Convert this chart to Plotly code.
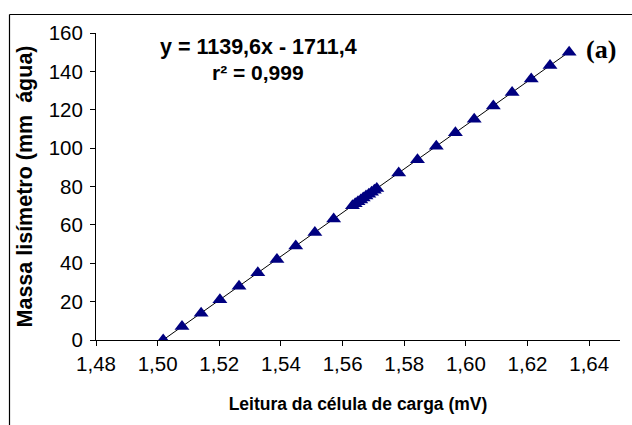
import plotly.graph_objects as go
import numpy as np

# Data
leitura_mv = [1.5018, 1.5079, 1.5141, 1.5202, 1.5264, 1.5325, 1.5387, 1.5448, 1.5510, 1.5571,
              1.5632, 1.5641, 1.5650, 1.5659, 1.5667, 1.5676, 1.5685, 1.5694, 1.5703, 1.5711,
              1.5782, 1.5843, 1.5904, 1.5966, 1.6027, 1.6089, 1.6150, 1.6212, 1.6273, 1.6335]
massa_mm = [0, 7, 14, 21, 28, 35, 42, 49, 56, 63,
            70, 71, 72, 73, 74, 75, 76, 77, 78, 79,
            87, 94, 101, 108, 115, 122, 129, 136, 143, 150]

slope = 1139.6
intercept = -1711.4
eq_text = "y = 1139,6x - 1711,4"
r2_text = "r² = 0,999"
panel_label = "(a)"
x_title = "Leitura da célula de carga (mV)"
y_title = "Massa lisímetro (mm  água)"

x_ticks = [1.48, 1.50, 1.52, 1.54, 1.56, 1.58, 1.60, 1.62, 1.64]
y_ticks = [0, 20, 40, 60, 80, 100, 120, 140, 160]

W, H = 632, 425
L, R, T, B = 96, 12, 33, 85
pw, ph = W - L - R, H - T - B

fx = np.array([min(leitura_mv), max(leitura_mv)])
fy = slope * fx + intercept

SANS = "Arial, Liberation Sans, sans-serif"
SERIF = "Liberation Serif, Times New Roman, DejaVu Serif, serif"

fig = go.Figure()
fig.add_trace(go.Scatter(x=fx, y=fy, mode="lines",
                         line=dict(color="black", width=1), showlegend=False, hoverinfo="skip"))
fig.add_trace(go.Scatter(x=leitura_mv, y=massa_mm, mode="markers",
                         marker=dict(symbol="triangle-up", size=13, color="#000080",
                                     line=dict(width=0)),
                         showlegend=False))

def px_x(p):
    return (p - L) / pw

def px_y(p):
    return (H - B - p) / ph

fig.add_shape(type="line", xref="paper", yref="paper",
              x0=px_x(9.5), x1=px_x(9.5), y0=px_y(14.5), y1=px_y(440),
              line=dict(color="black", width=1.2))
fig.add_shape(type="line", xref="paper", yref="paper",
              x0=px_x(9.5), x1=px_x(650), y0=px_y(14.5), y1=px_y(14.5),
              line=dict(color="black", width=1.2))

fig.add_annotation(xref="paper", yref="paper", x=px_x(258), y=px_y(47),
                   text=eq_text, showarrow=False, xanchor="center", yanchor="middle",
                   font=dict(family=SANS, size=21.5, color="black", weight="bold"))
fig.add_annotation(xref="paper", yref="paper", x=px_x(258), y=px_y(73),
                   text=r2_text, showarrow=False, xanchor="center", yanchor="middle",
                   font=dict(family=SANS, size=21, color="black", weight="bold"))
fig.add_annotation(xref="paper", yref="paper", x=px_x(601), y=px_y(49),
                   text="<b>" + panel_label + "</b>", showarrow=False,
                   xanchor="center", yanchor="middle",
                   font=dict(family=SERIF, size=26, color="black"))

axis_common = dict(showline=True, linecolor="black", linewidth=1, ticks="outside",
                   ticklen=5, tickcolor="black", tickwidth=1, showgrid=False, zeroline=False,
                   tickfont=dict(family=SANS, size=20.5, color="black"))

fig.update_layout(
    width=W, height=H, margin=dict(l=L, r=R, t=T, b=B, autoexpand=False),
    paper_bgcolor="white", plot_bgcolor="white", separators=",.",
    xaxis=dict(range=[1.48, 1.65], tickvals=x_ticks, tickformat=".2f",
               title=dict(text=x_title, standoff=24,
                          font=dict(family=SANS, size=17.5, color="black", weight="bold")),
               **axis_common),
    yaxis=dict(range=[0, 160], tickvals=y_ticks, ticklabelstandoff=3,
               title=dict(text=y_title, standoff=10,
                          font=dict(family=SANS, size=21.5, color="black", weight="bold")),
               **axis_common),
)

fig.write_html("out.html")
